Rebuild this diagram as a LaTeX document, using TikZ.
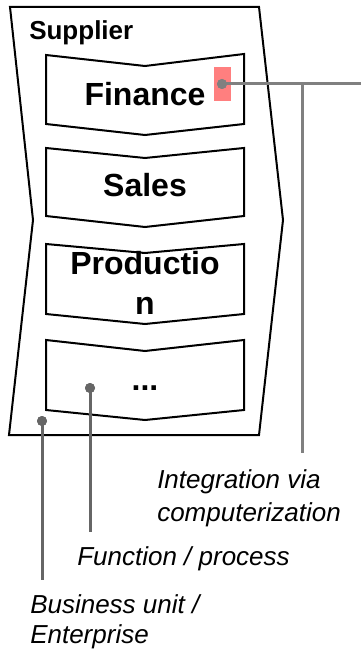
\documentclass[tikz,border=0pt]{standalone}
\usepackage{fontspec}
\setmainfont{Liberation Sans}
\definecolor{hlred}{HTML}{FF7F7F}
\definecolor{lgray}{HTML}{808080}
\definecolor{dgray}{HTML}{666666}
\tikzset{
  outline/.style={draw=black, line width=1.5pt, line join=miter},
  chev/.style={draw=black, line width=1.5pt, fill=white, line join=miter},
  boxtext/.style={font=\fontsize{24}{30}\selectfont\bfseries, inner sep=0pt, anchor=base},
  lbl/.style={font=\fontsize{19.5}{24.75}\selectfont\itshape, inner sep=0pt, align=left},
  dotl/.style={circle, fill=lgray, minimum size=7.5pt, inner sep=0pt},
  dotd/.style={circle, fill=dgray, minimum size=7.5pt, inner sep=0pt},
  linel/.style={draw=lgray, line width=2.25pt},
  lined/.style={draw=dgray, line width=2.25pt},
}
\begin{document}
\begin{tikzpicture}[x=0.75pt, y=-0.75pt]
\useasboundingbox (0,0) rectangle (361,655);
% outer business unit
\draw[outline] (10,7) -- (259,7) -- (283,220) -- (259,435) -- (9,435) -- (33,220) -- cycle;
\node[font=\fontsize{19.5}{24}\selectfont\bfseries, inner sep=0pt, anchor=base west] (sup) at (29,40) {Supplier};
% chevron boxes
\draw[chev] (46,55) -- (145,66) -- (244,54) -- (244,124) -- (145,135) -- (46,124) -- cycle;
\draw[chev] (46,148) -- (145,158) -- (244,148) -- (244,216) -- (145,227) -- (46,216) -- cycle;
\draw[chev] (46,244) -- (145,253) -- (244,244) -- (244,314) -- (145,324) -- (46,314) -- cycle;
\draw[chev] (46,340) -- (145,351) -- (244,340) -- (244,410) -- (145,420) -- (46,410) -- cycle;
\node[boxtext] (fin) at (145,106) {Finance};
\node[boxtext] (sal) at (145,197) {Sales};
\node[boxtext, align=center, anchor=base] (prod) at (145,315) {Productio\\n};
\node[boxtext] (etc) at (145,390) {...};
% highlight
\fill[hlred] (214,67) rectangle (231,101);
% dots and connectors
\node[dotl] (d1) at (222,84) {};
\node[dotd] (d2) at (90,388) {};
\node[dotd] (d3) at (42,421) {};
\coordinate (e1) at (361,84);
\coordinate (j1) at (302,84);
\coordinate (b1) at (302,453);
\coordinate (b2) at (90,532);
\coordinate (b3) at (42,580);
\draw[linel] (d1.center) -- (e1);
\draw[linel] (j1) -- (b1);
\draw[lined] (d2.center) -- (b2);
\draw[lined] (d3.center) -- (b3);
\node[dotl] at (d1) {};
\node[dotd] at (d2) {};
\node[dotd] at (d3) {};
% labels
\node[lbl, anchor=base west] (l1) at (157,521) {Integration via\\computerization};
\node[lbl, anchor=base west] (l2) at (77,565) {Function / process};
\node[lbl, anchor=base west, font=\fontsize{19.5}{22.5}\selectfont\itshape] (l3) at (30,643) {Business unit /\\Enterprise};
\end{tikzpicture}
\end{document}
